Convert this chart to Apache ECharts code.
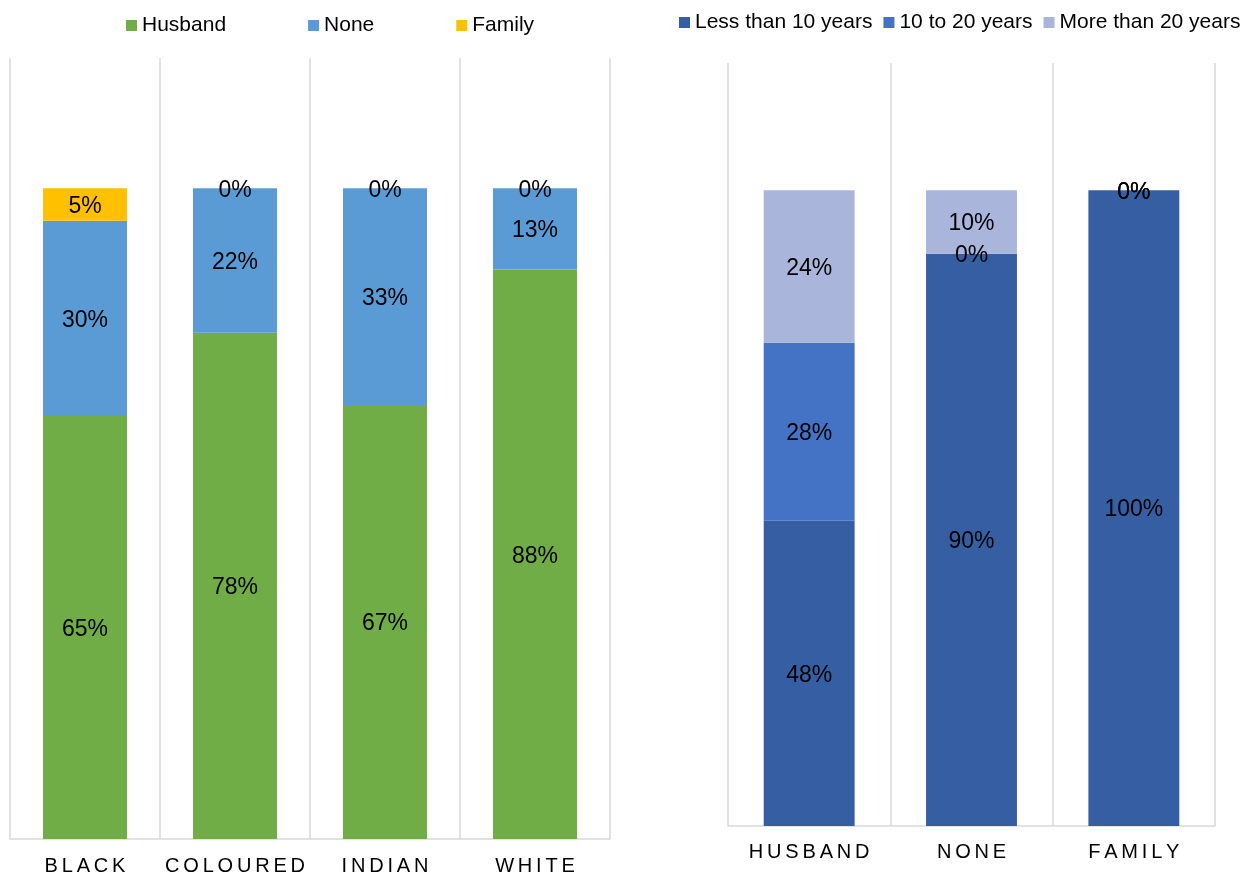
<!DOCTYPE html>
<html>
<head>
<meta charset="utf-8">
<style>
  html, body { margin: 0; padding: 0; background: #ffffff; }
  #chart { width: 1248px; height: 876px; }
</style>
<script src="https://cdn.jsdelivr.net/npm/echarts@6/dist/echarts.min.js"></script>
</head>
<body>
<div id="chart"></div>
<script>
// Left panel: support by race
const raceCategories = ['BLACK', 'COLOURED', 'INDIAN', 'WHITE'];
const husbandValues = [65, 77.8, 66.7, 87.5];
const noneValues = [30, 22.2, 33.3, 12.5];
const familyValues = [5, 0, 0, 0];

// Right panel: support by years
const supportCategories = ['HUSBAND', 'NONE', 'FAMILY'];
const lessThan10Values = [48, 90, 100];
const from10to20Values = [28, 0, 0];
const moreThan20Values = [24, 10, 0];

const FONT = '"Liberation Sans", Arial, sans-serif';
const GRID_COLOR = '#D9D9D9';

function spaced(v) {
  return v.split('').map(function (c) { return '{s|' + c + '}'; }).join('');
}

const labelOpt = {
  show: true,
  position: 'inside',
  offset: [0, 2],
  fontSize: 23,
  fontFamily: FONT,
  color: '#000000',
  formatter: function (p) { return Math.round(p.value) + '%'; }
};

function xAxisOpt(gridIndex, data, margin) {
  return {
    type: 'category',
    gridIndex: gridIndex,
    data: data,
    axisTick: { show: false },
    axisLine: { show: true, lineStyle: { color: GRID_COLOR, width: 1.5 } },
    splitLine: { show: true, interval: 0, lineStyle: { color: GRID_COLOR, width: 1.5 } },
    axisLabel: {
      interval: 0,
      hideOverlap: false,
      margin: margin,
      fontSize: 20,
      fontFamily: FONT,
      color: '#000000',
      formatter: spaced,
      rich: { s: { fontSize: 20, fontFamily: FONT, color: '#000000', padding: [0, 1.9, 0, 1.9] } }
    }
  };
}

function yAxisOpt(gridIndex) {
  return {
    type: 'value',
    gridIndex: gridIndex,
    min: 0,
    max: 120,
    show: false,
    splitLine: { show: false }
  };
}

function barSeries(name, data, color, idx, stack) {
  return {
    name: name,
    type: 'bar',
    stack: stack,
    xAxisIndex: idx,
    yAxisIndex: idx,
    data: data,
    barWidth: '56%',
    itemStyle: { color: color },
    label: labelOpt,
    emphasis: { disabled: true }
  };
}

const chart = echarts.init(document.getElementById('chart'), null, { renderer: 'canvas' });
chart.setOption({
  animation: false,
  backgroundColor: '#ffffff',
  legend: [
    {
      left: 126, top: 15, padding: 0,
      orient: 'horizontal', width: 500,
      itemWidth: 11, itemHeight: 11, itemGap: 82,
      icon: 'rect',
      textStyle: { fontSize: 21, fontFamily: FONT, color: '#000000' },
      data: ['Husband', 'None', 'Family']
    },
    {
      left: 679, top: 12, padding: 0,
      orient: 'horizontal', width: 600,
      itemWidth: 11, itemHeight: 11, itemGap: 11,
      icon: 'rect',
      textStyle: { fontSize: 21, fontFamily: FONT, color: '#000000' },
      data: ['Less than 10 years', '10 to 20 years', 'More than 20 years']
    }
  ],
  grid: [
    { left: 10, top: 58, width: 600, height: 781 },
    { left: 728, top: 63, width: 487, height: 763 }
  ],
  xAxis: [xAxisOpt(0, raceCategories, 17), xAxisOpt(1, supportCategories, 16)],
  yAxis: [yAxisOpt(0), yAxisOpt(1)],
  series: [
    barSeries('Husband', husbandValues, '#70AD47', 0, 'L'),
    barSeries('None', noneValues, '#5B9BD5', 0, 'L'),
    barSeries('Family', familyValues, '#FFC000', 0, 'L'),
    barSeries('Less than 10 years', lessThan10Values, '#365EA3', 1, 'R'),
    barSeries('10 to 20 years', from10to20Values, '#4472C4', 1, 'R'),
    barSeries('More than 20 years', moreThan20Values, '#A9B5DA', 1, 'R')
  ]
});
</script>
</body>
</html>
